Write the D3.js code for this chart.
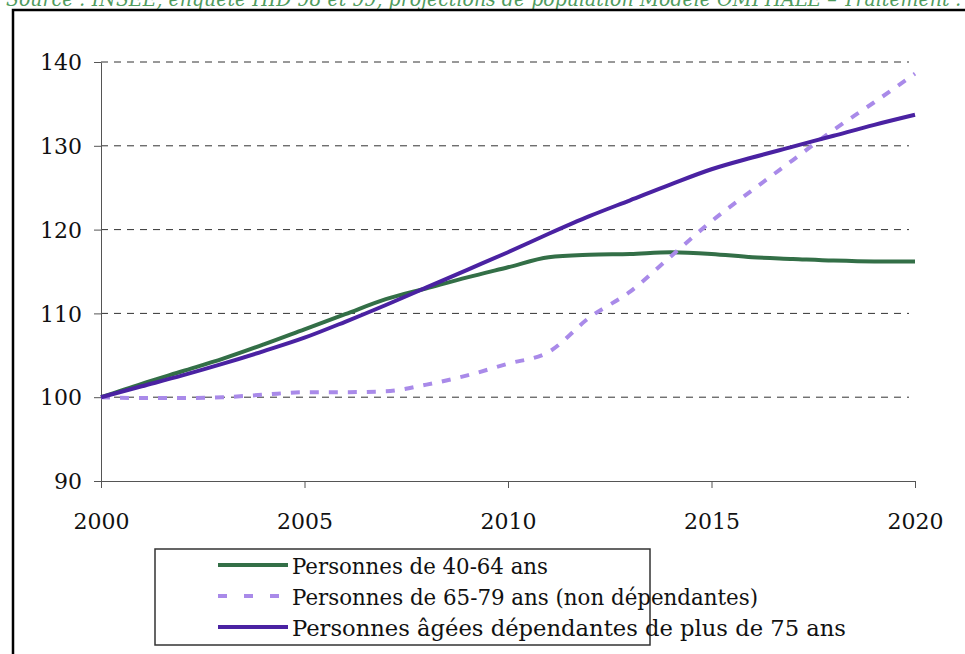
<!DOCTYPE html>
<html>
<head>
<meta charset="utf-8">
<script src="https://cdn.jsdelivr.net/npm/d3@7"></script>
<style>
  body { margin: 0; background: #fff; overflow: hidden; }
  svg { display: block; }
  svg text { font-family: "DejaVu Serif", serif; }
  .axis text { font-size: 22px; fill: #111; }
  .axis path, .axis line { stroke: #555; }
</style>
</head>
<body>
<div id="chart"></div>
<script>
// années et séries (indice base 100 en 2000)
var years = [2000, 2001, 2002, 2003, 2004, 2005, 2006, 2007, 2008, 2009, 2010,
             2011, 2012, 2013, 2014, 2015, 2016, 2017, 2018, 2019, 2020];
var pers4064 = [100, 101.6, 103.1, 104.6, 106.3, 108.1, 109.9, 111.7, 113.0, 114.3, 115.5,
                116.7, 117.0, 117.1, 117.3, 117.1, 116.7, 116.5, 116.3, 116.2, 116.2];
var pers6579 = [100, 99.9, 99.9, 100.0, 100.3, 100.6, 100.6, 100.7, 101.5, 102.6, 104.0,
                105.4, 109.5, 112.6, 116.8, 121.0, 124.7, 128.3, 131.9, 135.2, 138.6];
var persDep = [100, 101.3, 102.6, 104.0, 105.5, 107.1, 109.0, 111.0, 113.1, 115.2, 117.3,
               119.5, 121.6, 123.5, 125.4, 127.2, 128.6, 129.9, 131.2, 132.5, 133.7];
var seriesNames = ['Personnes de 40-64 ans',
                   'Personnes de 65-79 ans (non dépendantes)',
                   'Personnes âgées dépendantes de plus de 75 ans'];
var xTicks = [2000, 2005, 2010, 2015, 2020];
var yTicks = [90, 100, 110, 120, 130, 140];

var width = 965, height = 654;
var plotLeft = 101, plotRight = 915, plotTop = 62, plotBottom = 481;
var legendTextWidth = [256, 466, 554]; // largeur des libellés de la légende

var series = [
  { name: seriesNames[0], values: pers4064, color: '#336f47', dash: null },
  { name: seriesNames[1], values: pers6579, color: '#a98ae9', dash: '9,10' },
  { name: seriesNames[2], values: persDep, color: '#4a22a2', dash: null }
];

var svg = d3.select('#chart').append('svg')
  .attr('width', width)
  .attr('height', height);

// source (coupée en haut, comme l'original)
svg.append('text')
  .attr('x', 6)
  .attr('y', 6)
  .attr('textLength', 956)
  .attr('lengthAdjust', 'spacingAndGlyphs')
  .attr('font-style', 'italic')
  .attr('font-size', 20)
  .attr('fill', '#4f9b5e')
  .text('Source : INSEE, enquête HID 98 et 99, projections de population Modèle OMPHALE – Traitement :');

// cadre
svg.append('rect')
  .attr('x', 13)
  .attr('y', 10)
  .attr('width', 1000)
  .attr('height', 700)
  .attr('fill', 'none')
  .attr('stroke', '#000')
  .attr('stroke-width', 2.5);

var x = d3.scaleLinear().domain([2000, 2020]).range([plotLeft, plotRight]);
var y = d3.scaleLinear().domain([90, 140]).range([plotBottom, plotTop]);

// grille horizontale
svg.append('g')
  .selectAll('line')
  .data(yTicks.filter(function (d) { return d > 90; }))
  .enter()
  .append('line')
  .attr('x1', plotLeft)
  .attr('x2', plotRight - 6)
  .attr('y1', function (d) { return y(d); })
  .attr('y2', function (d) { return y(d); })
  .attr('stroke', '#333')
  .attr('stroke-width', 1)
  .attr('stroke-dasharray', '7,6');

// axes
svg.append('g')
  .attr('class', 'axis')
  .attr('transform', 'translate(' + plotLeft + ',0)')
  .call(d3.axisLeft(y).tickValues(yTicks).tickSize(7).tickPadding(12).tickSizeOuter(0))
  .call(function (g) { g.selectAll('text').attr('dy', '0.35em'); });

svg.append('g')
  .attr('class', 'axis')
  .attr('transform', 'translate(0,' + plotBottom + ')')
  .call(d3.axisBottom(x).tickValues(xTicks).tickFormat(d3.format('d')).tickSize(7).tickPadding(25).tickSizeOuter(0));

svg.selectAll('.axis').attr('font-family', null).attr('font-size', null);

// courbes
var line = d3.line()
  .x(function (d, i) { return x(years[i]); })
  .y(function (d) { return y(d); })
  .curve(d3.curveMonotoneX);

svg.append('g')
  .selectAll('path')
  .data(series)
  .enter()
  .append('path')
  .attr('d', function (d) { return line(d.values); })
  .attr('fill', 'none')
  .attr('stroke', function (d) { return d.color; })
  .attr('stroke-width', 4)
  .attr('stroke-dasharray', function (d) { return d.dash; });

// légende
var legend = svg.append('g');
legend.append('rect')
  .attr('x', 155)
  .attr('y', 549)
  .attr('width', 495)
  .attr('height', 96)
  .attr('fill', '#fff')
  .attr('stroke', '#333')
  .attr('stroke-width', 1.5);

var item = legend.selectAll('g.item')
  .data(series)
  .enter()
  .append('g')
  .attr('class', 'item')
  .attr('transform', function (d, i) { return 'translate(0,' + (565 + i * 31) + ')'; });

item.append('line')
  .attr('x1', 218)
  .attr('x2', 288)
  .attr('stroke', function (d) { return d.color; })
  .attr('stroke-width', 4)
  .attr('stroke-dasharray', function (d) { return d.dash ? '9,17' : null; });

item.append('text')
  .attr('x', 292)
  .attr('y', 9)
  .attr('font-size', 22)
  .attr('textLength', function (d, i) { return legendTextWidth[i]; })
  .attr('lengthAdjust', 'spacingAndGlyphs')
  .attr('fill', '#111')
  .text(function (d) { return d.name; });
</script>
</body>
</html>
